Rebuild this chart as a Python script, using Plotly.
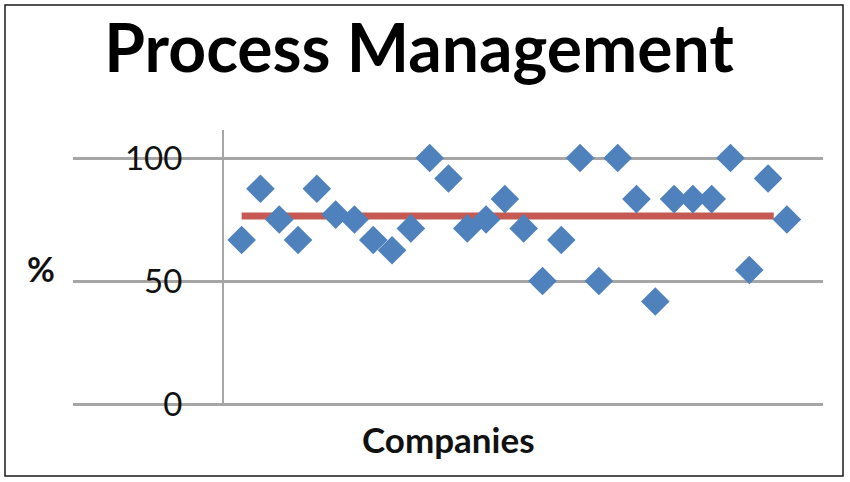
import plotly.graph_objects as go

# Data
companies = list(range(1, 31))
scores = [66.7, 87.5, 75, 66.7, 87.5, 77, 75, 66.7, 62.5, 71.4,
          100, 91.7, 71.4, 75, 83.3, 71.4, 50, 66.7, 100, 50,
          100, 83.3, 41.7, 83.3, 83.3, 83.3, 100, 54.5, 91.7, 75]
mean_value = sum(scores) / len(scores)
mean_x = [1, 29.3]
y_ticks = [0, 50, 100]

W, H = 850, 482
L, R, T, B = 73, 823, 130, 404


def px_x(p):
    return (p - L) / (R - L)


def px_y(p):
    return (B - p) / (B - T)


fig = go.Figure()
fig.add_trace(go.Scatter(
    x=mean_x, y=[mean_value] * len(mean_x), mode="lines",
    line=dict(color="#c65a52", width=7), hoverinfo="skip", showlegend=False))
fig.add_trace(go.Scatter(
    x=companies, y=scores, mode="markers",
    marker=dict(symbol="diamond", size=22, color="#4f81bd", line=dict(width=0)),
    showlegend=False))

fig.update_layout(
    width=W, height=H,
    margin=dict(l=L, r=W - R, t=T, b=H - B),
    paper_bgcolor="white", plot_bgcolor="white",
    font=dict(family="Lato", color="#111111"),
    title=dict(text="<b>Process Management</b>", x=419 / W, xanchor="center",
               xref="container", yref="container", y=1 - 49 / H, yanchor="middle",
               font=dict(family="Lato", size=66, color="#000000")),
    xaxis=dict(range=[-7.97, 31.92], showgrid=False, zeroline=False,
               showticklabels=False, showline=False),
    yaxis=dict(range=[0, 111.4], tickvals=y_ticks, showgrid=True,
               gridcolor="#a6a6a6", gridwidth=2.5, zeroline=True,
               zerolinecolor="#a6a6a6", zerolinewidth=2.5,
               anchor="free", position=px_x(223), showline=True,
               linecolor="#a6a6a6", linewidth=2, ticks="",
               ticklabelstandoff=33,
               tickfont=dict(family="Lato", size=33, color="#111111")),
    annotations=[
        dict(text="<b>%</b>", x=px_x(41), y=px_y(268), xref="paper", yref="paper",
             showarrow=False, xanchor="center", yanchor="middle",
             font=dict(family="Lato", size=34, color="#111111")),
        dict(text="<b>Companies</b>", x=px_x(448), y=px_y(439), xref="paper", yref="paper",
             showarrow=False, xanchor="center", yanchor="middle",
             font=dict(family="Lato", size=35, color="#111111")),
    ],
    shapes=[dict(type="rect", xref="paper", yref="paper",
                 x0=px_x(5), x1=px_x(843), y0=px_y(476), y1=px_y(5),
                 line=dict(color="#1a1a1a", width=1.5))],
)

fig.write_html("out.html")
